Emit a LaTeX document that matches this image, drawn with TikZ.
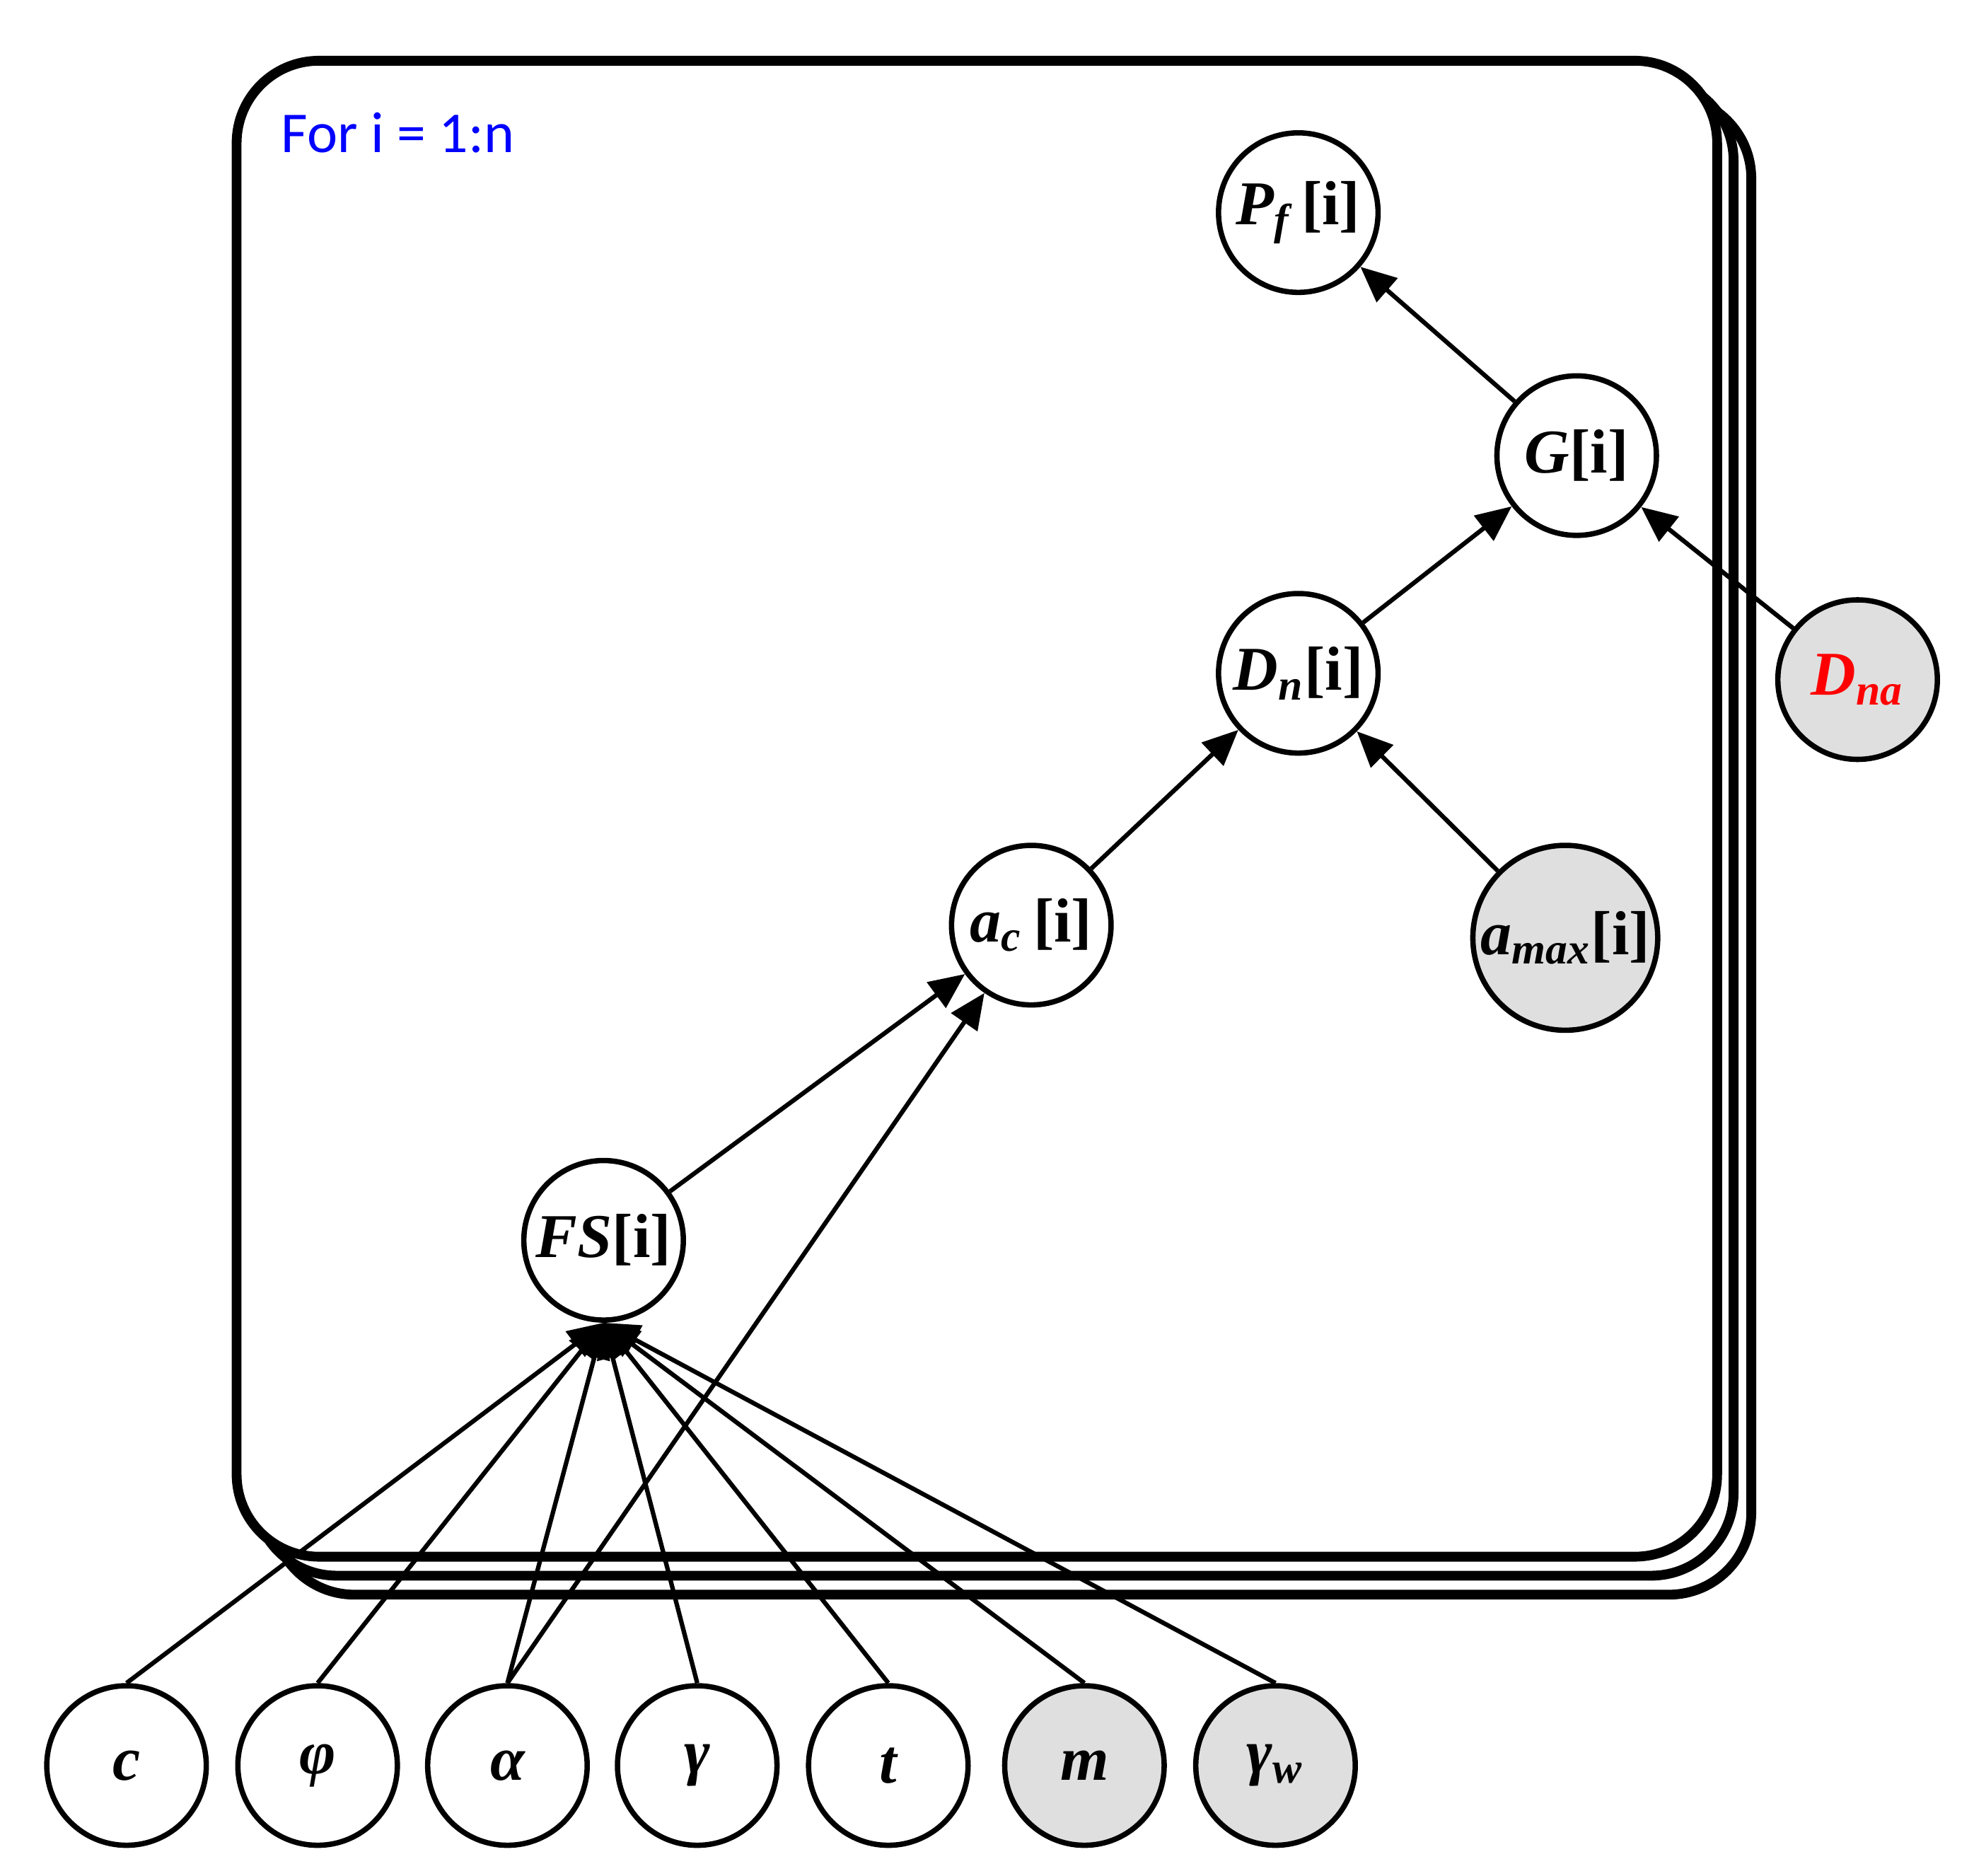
\documentclass[tikz,border=0pt]{standalone}
\usepackage{fontspec}
\setmainfont{Liberation Serif}
\newfontfamily\calib{Carlito}
\usetikzlibrary{arrows.meta}
\newcommand{\up}[1]{\textup{#1}}
\newcommand{\sbs}[1]{\textsubscript{#1}}
\begin{document}
\begin{tikzpicture}[x=0.01cm,y=-0.01cm,
  nd/.style={circle,draw,line width=1.2pt,minimum size=1.26cm,inner sep=0pt,fill=white,font=\fontsize{14}{16}\selectfont\bfseries\itshape},
  obs/.style={nd,fill=gray!25},
  ar/.style={line width=1pt,-{Triangle[length=8pt,width=7pt]}},
  plate/.style={line width=2.2pt,rounded corners=0.65cm,fill=white}]
\useasboundingbox (0,0) rectangle (1560,1482);
\draw[plate] (215,76) rectangle (1384,1260);
\draw[plate] (201,62) rectangle (1370,1245);
\draw[plate] (187,48) rectangle (1357,1230);
\node[anchor=west,text=blue,font=\calib\fontsize{13}{15}\selectfont] (lbl) at (210,105) {For i = 1:n};
\node[nd] (Pf) at (1026,168) {P\sbs{f}\,\up{[i]}};
\node[nd] (G) at (1246,360) {G\up{[i]}};
\node[nd] (Dn) at (1026,532) {D\sbs{n}\up{[i]}};
\node[obs] (Dna) at (1468,537) {\textcolor{red}{D\sbs{na}}};
\node[obs,minimum size=1.46cm] (amax) at (1237,741) {a\sbs{max}\up{[i]}};
\node[nd] (ac) at (815,731) {a\sbs{c}\,\up{[i]}};
\node[nd] (FS) at (477,980) {FS\up{[i]}};
\node[nd] (c) at (100,1395) {c};
\node[nd] (phi) at (251,1395) {φ};
\node[nd] (al) at (401,1395) {α};
\node[nd] (ga) at (551,1395) {γ};
\node[nd] (t) at (702,1395) {t};
\node[obs] (m) at (857,1395) {m};
\node[obs] (gw) at (1008,1395) {γ\sbs{w}};
\foreach \n in {c,phi,al,ga,t,m,gw} \draw[ar] (\n.north) -- (FS.south);
\draw[ar] (al.north) -- (ac);
\draw[ar] (FS) -- (ac);
\draw[ar] (ac) -- (Dn);
\draw[ar] (amax) -- (Dn);
\draw[ar] (Dn) -- (G);
\draw[ar] (Dna) -- (G);
\draw[ar] (G) -- (Pf);
\end{tikzpicture}
\end{document}
